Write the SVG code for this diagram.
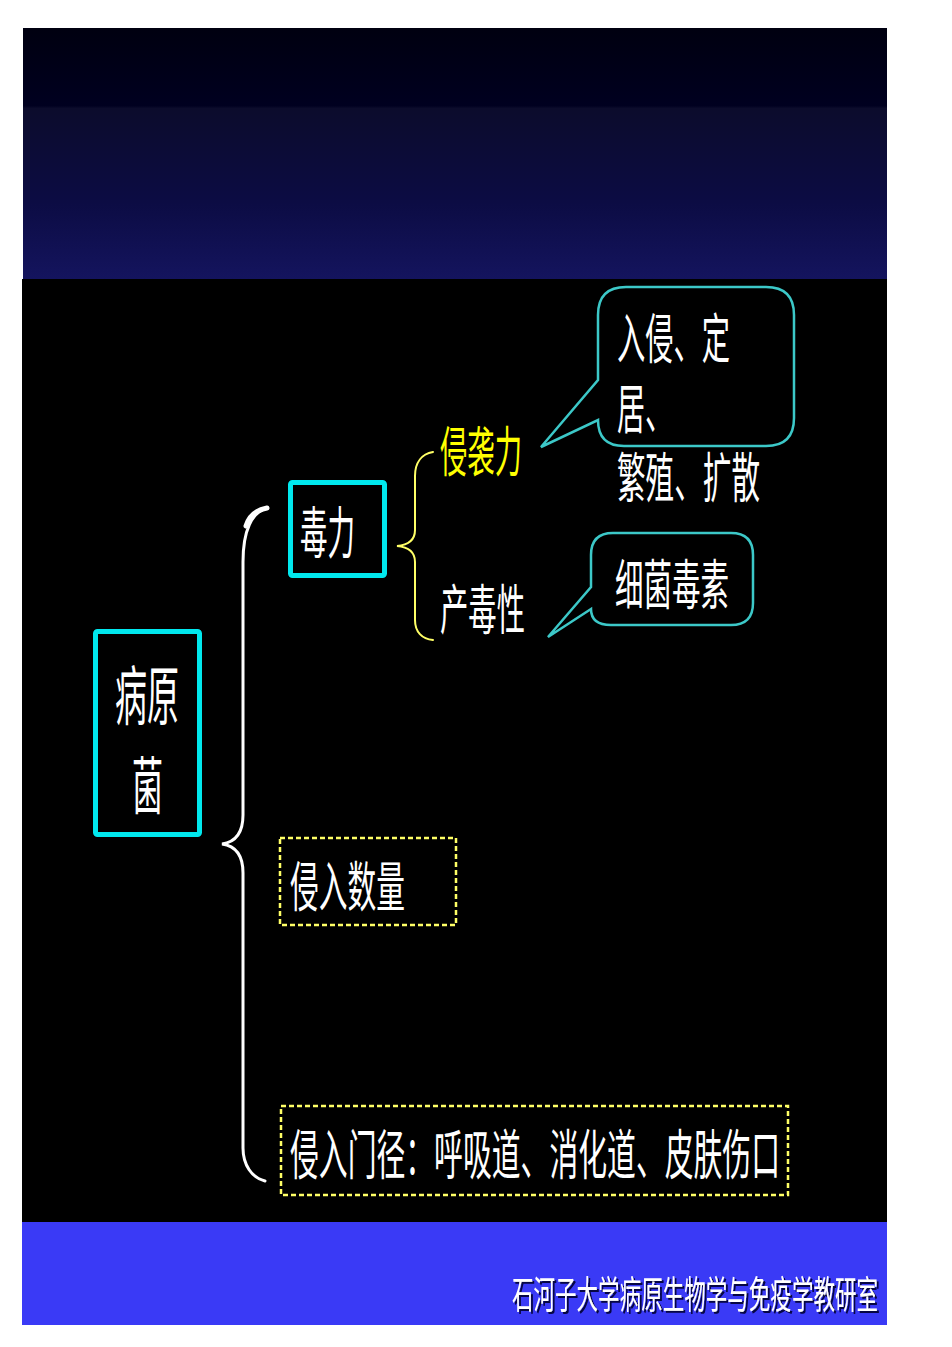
<svg xmlns="http://www.w3.org/2000/svg" width="952" height="1347" viewBox="0 0 952 1347">
<defs>
<linearGradient id="topg" x1="0" y1="0" x2="0" y2="1">
<stop offset="0" stop-color="#000010"/>
<stop offset="0.31" stop-color="#000020"/>
<stop offset="0.32" stop-color="#0c0c2c"/>
<stop offset="0.7" stop-color="#0c0c44"/>
<stop offset="1" stop-color="#14145e"/>
</linearGradient>
<filter id="sh" x="-5%" y="-20%" width="110%" height="140%">
<feDropShadow dx="2" dy="2" stdDeviation="0.5" flood-color="#000033" flood-opacity="0.9"/>
</filter>
</defs>
<style>
text{font-family:"Noto Sans CJK SC","Noto Sans CJK JP",sans-serif;fill:#ffffff}
.t54{font-size:54px}
.box{fill:none;stroke:#00e8ee;stroke-width:5}
.dash{fill:none;stroke:#ffff66;stroke-width:2.5;stroke-dasharray:5 3}
.call{fill:#000000;stroke:#3cc8c8;stroke-width:2.5;stroke-linejoin:miter}
.brw{fill:none;stroke:#ffffff;stroke-width:3;stroke-linecap:round}
.bry{fill:none;stroke:#ffff66;stroke-width:2;stroke-linecap:round}
</style>
<rect x="0" y="0" width="952" height="1347" fill="#ffffff"/>
<rect x="23" y="28" width="864" height="251" fill="url(#topg)"/>
<rect x="22" y="279" width="865" height="944" fill="#000000"/>
<rect x="22" y="1222" width="865" height="103" fill="#3a3af6"/>
<g id="connectors">
<path class="brw" d="M267,508 C252,512 243,530 243,562 L243,815 C243,832 236,842 222,844 C236,846 243,856 243,873 L243,1148 C243,1165 252,1178 265,1181"/>
<path d="M267,508 C256,510 249,516 246,526" fill="none" stroke="#ffffff" stroke-width="5" stroke-linecap="round"/>
<path class="bry" d="M433,452 C422,454 415,462 415,476 L415,530 C415,540 408,545 397,546 C408,547 415,552 415,562 L415,620 C415,632 422,639 433,640"/>
</g>
<g id="node-pathogen">
<rect class="box" x="95.5" y="631.5" width="104" height="203" rx="2"/>
<text x="115" y="719" font-size="64" textLength="64" lengthAdjust="spacingAndGlyphs">病原</text>
<text x="132" y="809" font-size="62" textLength="31" lengthAdjust="spacingAndGlyphs">菌</text>
</g>
<g id="node-virulence">
<rect class="box" x="290.5" y="482.5" width="94" height="93" rx="2"/>
<text x="300" y="553" font-size="56" textLength="55" lengthAdjust="spacingAndGlyphs">毒力</text>
</g>
<g id="node-invasiveness">
<text class="t54" x="440" y="472" textLength="82" lengthAdjust="spacingAndGlyphs" style="fill:#ffff00">侵袭力</text>
</g>
<g id="node-toxigenicity">
<text class="t54" x="440" y="630" textLength="85" lengthAdjust="spacingAndGlyphs">产毒性</text>
</g>
<g id="node-callout-invasion">
<path class="call" d="M626,287 H766 Q794,287 794,315 V418 Q794,446 766,446 H624 Q598,446 598,420 L541,447 L598,380 V315 Q598,287 626,287 Z"/>
<text class="t54" x="617" y="359" textLength="113" lengthAdjust="spacingAndGlyphs">入侵、定</text>
<text class="t54" x="617" y="429" textLength="56" lengthAdjust="spacingAndGlyphs">居、</text>
<text class="t54" x="617" y="498" textLength="143" lengthAdjust="spacingAndGlyphs">繁殖、扩散</text>
</g>
<g id="node-callout-toxin">
<path class="call" d="M613,533 H731 Q753,533 753,555 V603 Q753,625 731,625 H611 Q591,625 591,609 L548,637 L591,587 V555 Q591,533 613,533 Z"/>
<text class="t54" x="615" y="605" textLength="114" lengthAdjust="spacingAndGlyphs">细菌毒素</text>
</g>
<g id="node-quantity">
<rect class="dash" x="280" y="838" width="176" height="87"/>
<text class="t54" x="290" y="907" textLength="115" lengthAdjust="spacingAndGlyphs">侵入数量</text>
</g>
<g id="node-route">
<rect class="dash" x="281" y="1106" width="507" height="89"/>
<text class="t54" x="290" y="1175" textLength="490" lengthAdjust="spacingAndGlyphs">侵入门径：呼吸道、消化道、皮肤伤口</text>
</g>
<g id="footer">
<text x="512" y="1308" font-size="38" textLength="366" lengthAdjust="spacingAndGlyphs" filter="url(#sh)">石河子大学病原生物学与免疫学教研室</text>
</g>
</svg>
